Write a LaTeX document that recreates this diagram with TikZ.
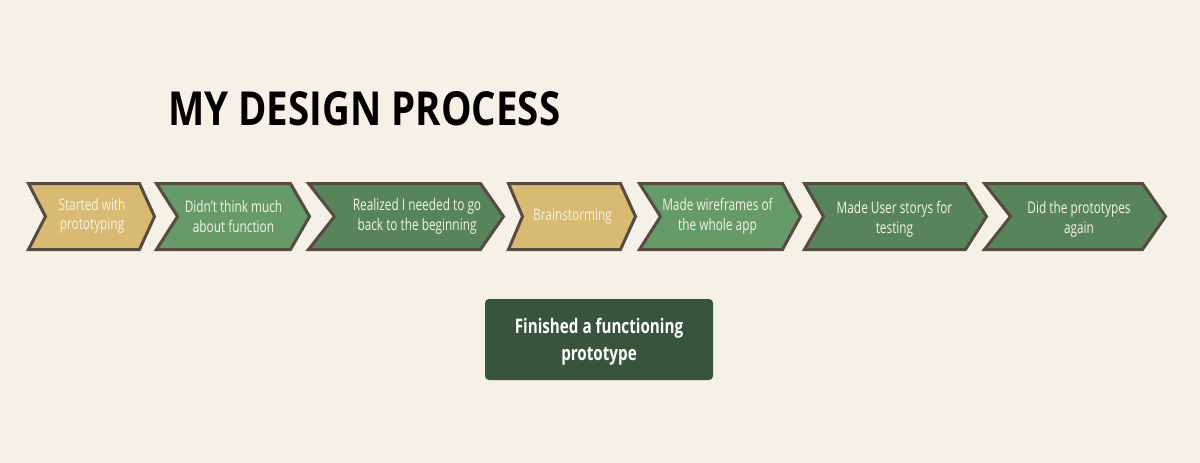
\documentclass[tikz,border=0pt]{standalone}
\usepackage{fontspec}
\usepackage{graphicx}
\setmainfont{Open Sans}
\newfontfamily\condfont[FakeStretch=0.74]{Open Sans}
\newfontfamily\boxfont[FakeStretch=0.76]{Open Sans}
\newfontfamily\titlefont[FakeStretch=0.72]{Open Sans}

\definecolor{bgcream}{HTML}{F6F1E7}
\definecolor{tanfill}{HTML}{D9BA73}
\definecolor{lightgreen}{HTML}{679A69}
\definecolor{darkgreen}{HTML}{57845A}
\definecolor{edgebrown}{HTML}{574A40}
\definecolor{boxgreen}{HTML}{38543A}
\definecolor{labelcream}{HTML}{F6F2E8}

\tikzset{
  chevbase/.style={draw=edgebrown, line width=3pt, line join=miter},
  tanstep/.style={chevbase, fill=tanfill},
  lightstep/.style={chevbase, fill=lightgreen},
  darkstep/.style={chevbase, fill=darkgreen},
  steplabel/.style={text=labelcream, align=center, inner sep=0pt,
    font=\condfont\fontsize{16}{19.5}\selectfont},
  finalbox/.style={fill=boxgreen, rounded corners=4pt, minimum width=228pt,
    minimum height=81pt, inner sep=0pt},
  finallabel/.style={text=white, align=center, inner sep=0pt,
    font=\boxfont\bfseries\fontsize{20}{27}\selectfont},
}

% #1 left edge, #2 tip, #3 notch depth, #4 tip depth, #5 style
\newcommand{\chevronstep}[5]{%
  \path[#5] (#1,183.5) -- ({#2-#4},183.5) -- (#2,216.5) -- ({#2-#4},249.5)
    -- (#1,249.5) -- ({#1+#3},216.5) -- cycle;
}

\begin{document}
\begin{tikzpicture}[x=1pt, y=-1pt]
  \fill[bgcream] (0,0) rectangle (1200,463);
  \useasboundingbox (0,0) rectangle (1200,463);

  % title
  \node[anchor=base west, inner sep=0pt] (title) at (168,125)
    {\resizebox{392pt}{34pt}{\titlefont\bfseries MY DESIGN PROCESS}};

  % process chevrons
  \chevronstep{28.5}{154.5}{17}{15}{tanstep}
  \chevronstep{156.5}{309.5}{21}{19}{lightstep}
  \chevronstep{308.5}{503.5}{26}{23}{darkstep}
  \chevronstep{508.5}{635.5}{14}{15}{tanstep}
  \chevronstep{639.5}{800.5}{21}{18}{lightstep}
  \chevronstep{804.5}{986.5}{19}{21}{darkstep}
  \chevronstep{984.5}{1165.5}{26}{23}{darkstep}

  % step labels
  \node[steplabel] (s1) at (92,216) {Started with\\prototyping};
  \node[steplabel] (s2) at (233.5,216.5) {Didn’t think much\\about function};
  \node[steplabel] (s3) at (417,216.5) {Realized I needed to go\\back to the beginning};
  \node[steplabel] (s4) at (572.5,217) {Brainstorming};
  \node[steplabel] (s5) at (717.5,216.5) {Made wireframes of\\the whole app};
  \node[steplabel] (s6) at (894.5,219.5) {Made User storys for\\testing};
  \node[steplabel] (s7) at (1079,219.5) {Did the prototypes\\again};

  % outcome
  \node[finalbox] (done) at (599,339.5) {};
  \node[finallabel] (donetext) at (599,342) {Finished a functioning\\prototype};
\end{tikzpicture}
\end{document}
